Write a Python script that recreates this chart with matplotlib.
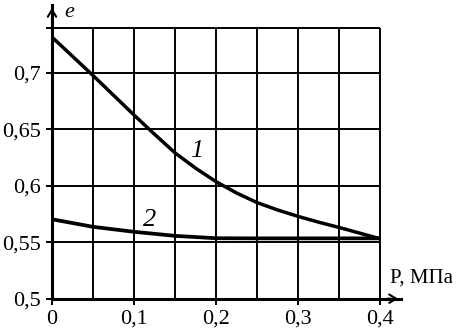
import matplotlib
matplotlib.use("Agg")
import matplotlib.pyplot as plt

# Data
p1 = [0.0, 0.025, 0.05, 0.075, 0.1, 0.125, 0.15, 0.175, 0.2, 0.225, 0.25,
      0.275, 0.3, 0.325, 0.35, 0.375, 0.4]
e1 = [0.7315, 0.7145, 0.6975, 0.6800, 0.6625, 0.6455, 0.6290, 0.6155, 0.6035,
      0.5935, 0.5850, 0.5785, 0.5728, 0.5677, 0.5630, 0.5580, 0.5530]
p2 = [0.0, 0.05, 0.1, 0.15, 0.2, 0.25, 0.3, 0.35, 0.4]
e2 = [0.5703, 0.5636, 0.5592, 0.5556, 0.5535, 0.5534, 0.5534, 0.5534, 0.5534]
xticks = [0, 0.1, 0.2, 0.3, 0.4]
xticklabels = ["0", "0,1", "0,2", "0,3", "0,4"]
yticks = [0.5, 0.55, 0.6, 0.65, 0.7]
yticklabels = ["0,5", "0,55", "0,6", "0,65", "0,7"]
xgrid = [0.05, 0.1, 0.15, 0.2, 0.25, 0.3, 0.35, 0.4]
ygrid = [0.55, 0.6, 0.65, 0.7, 0.74]

plt.rcParams['font.family'] = ['Liberation Serif', 'DejaVu Serif']
fig = plt.figure(figsize=(4.58, 3.36), dpi=100)
ax = fig.add_axes([52/458, 1-298.7/336, (401-52)/458, (298.7-5)/336])
xmax = 0.4 * (401-52) / (380.3-52)
ymax = 0.5 + (298.7-5) / 56.5 * 0.05
ax.set_xlim(0, xmax)
ax.set_ylim(0.5, ymax)
for s in ax.spines.values():
    s.set_visible(False)

# grid
ax.vlines(xgrid, 0.5, 0.74, color='black', lw=1.4)
ax.hlines(ygrid, 0, 0.4, color='black', lw=1.4)

# axes with arrows
ax.plot([0, 0], [0.5, ymax], color='black', lw=2.2, clip_on=False)
ax.plot([0, xmax], [0.5, 0.5], color='black', lw=2.2, clip_on=False)
ax.annotate('', xy=(0, ymax), xytext=(0, ymax - 0.02),
            arrowprops=dict(arrowstyle='->,head_length=0.5,head_width=0.3', color='black', lw=1.5),
            annotation_clip=False)
ax.annotate('', xy=(xmax, 0.5), xytext=(xmax - 0.02, 0.5),
            arrowprops=dict(arrowstyle='->,head_length=0.5,head_width=0.3', color='black', lw=1.5),
            annotation_clip=False)

# curves
ax.plot(p1, e1, color='black', lw=2.5, solid_capstyle='butt', solid_joinstyle='round')
ax.plot(p2, e2, color='black', lw=2.7, solid_capstyle='butt', solid_joinstyle='round')

ax.set_xticks(xticks)
ax.set_xticklabels(xticklabels)
ax.set_yticks(yticks + [0.74])
ax.set_yticklabels(yticklabels + [""])
ax.tick_params(axis='both', direction='out', length=4, width=1.4, labelsize=16, colors='black', pad=4)

ax.text(0.1194, 0.570, "2", fontsize=19, style='italic', ha='center', va='center')
ax.text(0.176, 0.6304, "1", fontsize=19, style='italic', ha='center', va='center')
ax.text(0.0207, 0.7537, "e", fontsize=16, style='italic', ha='center', va='center')
ax.text(0.4496, 0.5179, "P, МПа", fontsize=15, ha='center', va='center')

fig.savefig("out.png", dpi=100)
